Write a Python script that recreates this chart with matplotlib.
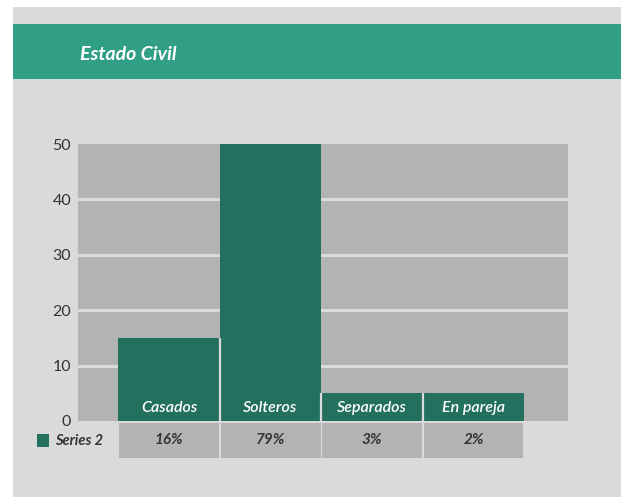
import numpy as np
import matplotlib
matplotlib.use('Agg')
import matplotlib.pyplot as plt
from matplotlib.patches import Rectangle

categories = ['Casados', 'Solteros', 'Separados', 'En pareja']
bar_heights = [15, 50, 5, 5]
pct_labels = ['16%', '79%', '3%', '2%']
y_ticks = [0, 10, 20, 30, 40, 50]
series_name = 'Series 2'
title = 'Estado Civil'

BG = '#dadada'
HEADER = '#319f86'
BAR = '#23705f'
PLOT_BG = '#b3b3b3'
TXT = '#333333'

W, H = 621, 497
fig = plt.figure(figsize=(W / 100, H / 100), dpi=100)
fig.patch.set_facecolor('white')


def fx(px):
    return px / W


def fy(py):
    return 1 - py / H


# background panel and header band
fig.patches.append(Rectangle((fx(13), 0), 1 - fx(13), fy(7), transform=fig.transFigure,
                             facecolor=BG, edgecolor='none', zorder=-2))
fig.patches.append(Rectangle((fx(13), fy(79)), 1 - fx(13), fy(24) - fy(79), transform=fig.transFigure,
                             facecolor=HEADER, edgecolor='none', zorder=-1))
fig.text(fx(80), fy(54), title, color='white', fontsize=14, fontweight='bold',
         fontstyle='italic', family=['Lato', 'DejaVu Sans'], va='center', ha='left')

x = np.arange(len(categories))
xlim = (-0.897, 3.931)

# main plot
ax = fig.add_axes([fx(78), fy(421), fx(568) - fx(78), fy(144) - fy(421)])
ax.set_facecolor(PLOT_BG)
for t in y_ticks[1:-1]:
    ax.axhline(t, color=BG, lw=2.2, zorder=1)
ax.bar(x, bar_heights, width=1.0, color=BAR, edgecolor='none', zorder=2)
# light separators between neighbouring bars
for i in range(len(x) - 1):
    ax.vlines(x[i] + 0.5, 0, min(bar_heights[i], bar_heights[i + 1]), color=BG, lw=1.6, zorder=2.5)
for xi, name in zip(x, categories):
    ax.text(xi, 2.4, name, color='white', fontsize=11.5, fontstyle='italic', fontweight='semibold',
            family=['Lato', 'DejaVu Sans'], ha='center', va='center', zorder=3)
ax.set_xlim(*xlim)
ax.set_ylim(0, 50)
ax.set_yticks(y_ticks)
ax.set_yticklabels([str(t) for t in y_ticks], color=TXT, fontsize=11.5, family=['Lato', 'DejaVu Sans'])
ax.set_xticks([])
ax.tick_params(axis='y', length=0, pad=5)
for s in ax.spines.values():
    s.set_visible(False)

# data table row
tax = fig.add_axes([fx(78), fy(458), fx(568) - fx(78), fy(423) - fy(458)])
tax.set_facecolor('none')
tax.bar(x, [1] * len(x), width=0.985, color=PLOT_BG, edgecolor='none')
for xi, lab in zip(x, pct_labels):
    tax.text(xi, 0.5, lab, color=TXT, fontsize=11, fontstyle='italic', fontweight='bold',
             family=['Lato', 'DejaVu Sans'], ha='center', va='center')
tax.set_xlim(*xlim)
tax.set_ylim(0, 1)
tax.axis('off')

# legend key
fig.patches.append(Rectangle((fx(37), fy(447)), fx(12), fy(434) - fy(447), transform=fig.transFigure,
                             facecolor=BAR, edgecolor='none', zorder=2))
fig.text(fx(55), fy(441), series_name, color=TXT, fontsize=10.5, fontstyle='italic',
         fontweight='bold', family=['Lato', 'DejaVu Sans'], va='center', ha='left')

fig.savefig('out.png', dpi=100)
